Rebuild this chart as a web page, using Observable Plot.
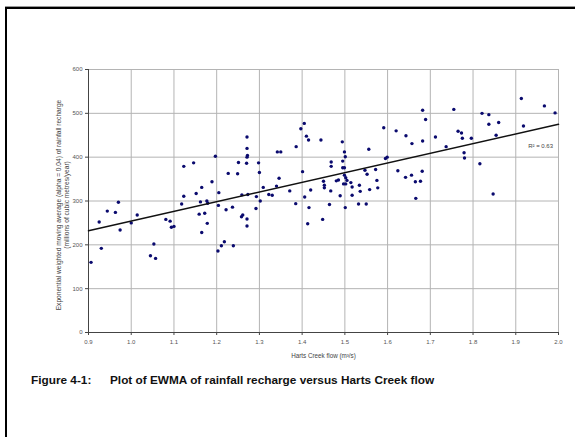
<!DOCTYPE html>
<html>
<head>
<meta charset="utf-8">
<script src="https://cdn.jsdelivr.net/npm/d3@7"></script>
<script src="https://cdn.jsdelivr.net/npm/@observablehq/plot@0.6"></script>
<style>
  html, body { margin: 0; padding: 0; background: #fff; }
  #wrap { position: relative; width: 575px; height: 437px; overflow: hidden; font-family: "Liberation Sans", Arial, sans-serif; }
  #frame { position: absolute; left: 5px; top: 7px; width: 600px; height: 460px; border-left: 2px solid #000; border-top: 2px solid #000; box-shadow: 0 -1px 0 #999; }
  #chart { position: absolute; left: 0; top: 0; }
  #caption { position: absolute; left: 31px; top: 373px; font-size: 11.8px; font-weight: bold; color: #111; white-space: pre; }
  #caption span { display: inline-block; width: 79px; }
</style>
</head>
<body>
<div id="wrap">
  <div id="frame"></div>
  <div id="chart"></div>
  <div id="caption"><span>Figure 4-1:</span>Plot of EWMA of rainfall recharge versus Harts Creek flow</div>
</div>
<script>
// Harts Creek flow (m3/s)
const flow = [
  0.906,0.930,0.925,0.944,0.963,0.970,0.974,1.000,1.014,1.053,1.045,1.057,1.081,1.091,1.094,1.100,1.118,
  1.123,1.146,1.197,1.123,1.152,1.165,1.189,1.162,1.177,1.179,1.205,1.204,1.159,1.172,1.178,1.165,1.222,1.237,
  1.203,1.211,1.218,1.239,1.227,1.249,1.251,1.270,1.271,1.272,1.271,1.271,1.298,1.300,1.259,1.273,1.293,1.309,
  1.302,1.292,1.258,1.261,1.271,1.271,1.322,1.330,
  1.340,1.346,1.342,1.350,1.371,1.385,1.386,1.397,1.405,1.410,1.415,1.444,1.401,1.406,1.420,1.416,1.413,1.448,
  1.464,1.450,1.452,1.452,1.467,1.468,1.468,1.480,1.485,1.489,1.494,1.499,1.501,1.495,1.495,1.499,1.499,1.502,
  1.505,1.497,1.502,1.514,1.517,1.517,1.501,1.534,1.536,1.532,1.550,1.547,1.552,1.556,
  1.572,1.575,1.577,1.558,1.591,1.620,1.643,1.657,1.682,1.689,1.682,1.712,1.737,1.755,1.765,1.773,1.775,1.779,
  1.780,1.796,1.816,1.821,1.837,1.837,1.860,1.854,1.847,1.913,1.918,1.967,1.992,1.595,1.599,1.624,1.642,1.656,
  1.665,1.677,1.681,1.666
];
// EWMA of rainfall recharge (millions of cubic metres/year)
const ewma = [
  160,192,252,277,274,297,234,250,268,202,175,169,258,254,240,242,293,
  379,387,402,311,317,331,344,298,300,295,319,290,270,272,249,228,280,286,
  186,198,207,198,363,362,388,386,400,404,420,446,387,365,314,315,310,331,
  300,283,264,268,259,243,315,313,
  334,352,412,412,323,294,424,465,477,448,439,439,367,309,325,285,248,258,
  292,345,336,330,323,379,389,346,348,312,435,412,401,391,376,376,359,353,
  347,339,339,342,332,313,285,336,322,293,293,370,361,418,
  372,347,330,326,467,460,449,431,507,486,437,446,424,509,459,455,443,410,
  398,443,385,500,497,475,479,450,316,534,471,517,501,397,400,369,354,359,
  344,345,368,306
];
// Linear trend line as drawn in the source (read at both ends of the axis)
const trendFlow = [0.9, 2.0];
const trendEwma = [232, 475];

const xTicks = [0.9,1.0,1.1,1.2,1.3,1.4,1.5,1.6,1.7,1.8,1.9,2.0];
const yTicks = [0,100,200,300,400,500,600];
const xLabel = "Harts Creek flow (m\u00B3/s)";
const yLabel = "Exponential weighted moving average (alpha = 0.04) of rainfall recharge\n(millions of cubic metres/year)";
const r2Label = [{x: 1.958, y: 426, text: "R\u00B2 = 0.63"}];

const data = flow.map((f, i) => ({flow: f, ewma: ewma[i]}));
const trend = trendFlow.map((f, i) => ({flow: f, ewma: trendEwma[i]}));

const chart = Plot.plot({
  width: 575,
  height: 437,
  marginLeft: 88,
  marginRight: 17,
  marginTop: 69,
  marginBottom: 105,
  style: {fontFamily: "'Liberation Sans', Arial, sans-serif", background: "transparent"},
  x: {type: "linear", domain: [0.9, 2.0]},
  y: {type: "linear", domain: [0, 600]},
  marks: [
    Plot.gridX({ticks: xTicks, stroke: "#b4b4b4", strokeOpacity: 1, strokeWidth: 1}),
    Plot.gridY({ticks: yTicks, stroke: "#b4b4b4", strokeOpacity: 1, strokeWidth: 1}),
    Plot.axisX({ticks: xTicks, tickFormat: d3.format(".1f"), tickSize: 3, tickPadding: 4, fontSize: 6, color: "#555", stroke: "#444", label: null}),
    Plot.axisY({ticks: yTicks, tickSize: 3, tickPadding: 3, fontSize: 6, color: "#555", stroke: "#444", label: null}),
    Plot.ruleX([0.9], {stroke: "#444"}),
    Plot.ruleY([0], {stroke: "#444"}),
    Plot.text([xLabel], {frameAnchor: "bottom", dy: 25, fontSize: 6.3, fill: "#444"}),
    Plot.text([yLabel], {frameAnchor: "left", textAnchor: "middle", dx: -26, dy: 4, rotate: -90, fontSize: 6.6, lineHeight: 1.25, fill: "#444"}),
    Plot.dot(data, {x: "flow", y: "ewma", r: 1.7, fill: "#0a0a6e", stroke: "none"}),
    Plot.line(trend, {x: "flow", y: "ewma", stroke: "#111", strokeWidth: 1.5}),
    Plot.text(r2Label, {x: "x", y: "y", text: "text", fontSize: 6, fill: "#444"})
  ]
});
document.getElementById("chart").appendChild(chart);
</script>
</body>
</html>
